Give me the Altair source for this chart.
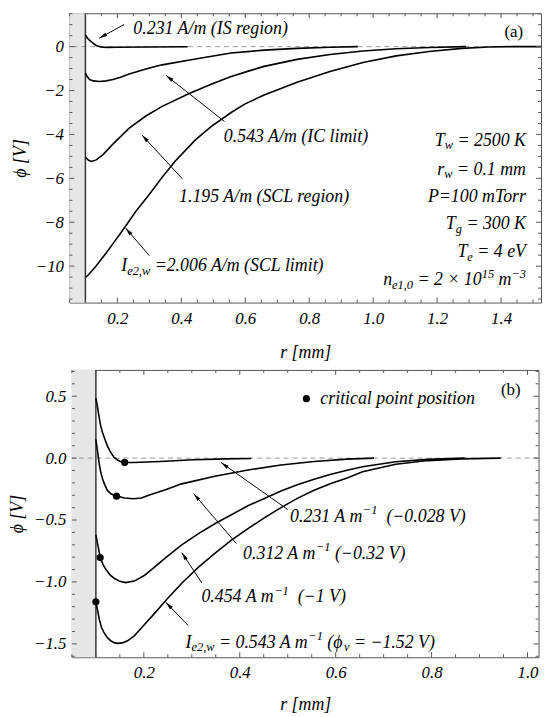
import re
import math
import pandas as pd
import altair as alt

FONT = "Liberation Serif"

# ---------------- panel (a): phi(r) curves ----------------
a_231_r = [0.1, 0.105, 0.11, 0.119, 0.127, 0.134, 0.145, 0.155, 0.17, 0.2, 0.3, 0.42]
a_231_phi = [0.53, 0.42, 0.33, 0.22, 0.12, 0.05, 0.0, -0.03, -0.035, -0.03, -0.015, -0.003]
a_543_r = [0.1, 0.105, 0.113, 0.125, 0.144, 0.165, 0.186, 0.21, 0.237, 0.289, 0.34, 0.444,
           0.556, 0.659, 0.762, 0.865, 0.952]
a_543_phi = [-1.20, -1.35, -1.50, -1.56, -1.59, -1.56, -1.50, -1.39, -1.25, -1.02, -0.83, -0.56,
             -0.29, -0.16, -0.08, -0.03, 0.0]
a_1195_r = [0.1, 0.11, 0.119, 0.134, 0.155, 0.186, 0.237, 0.289, 0.34, 0.423, 0.495, 0.556,
            0.62, 0.659, 0.762, 0.865, 0.968, 1.072, 1.175, 1.29]
a_1195_phi = [-5.04, -5.18, -5.23, -5.16, -4.92, -4.44, -3.71, -3.16, -2.72, -2.15, -1.70, -1.36,
              -1.07, -0.90, -0.58, -0.36, -0.20, -0.10, -0.04, 0.0]
a_2006_r = [0.1, 0.104, 0.11, 0.12, 0.134, 0.165, 0.196, 0.227, 0.258, 0.299, 0.34, 0.382,
            0.444, 0.495, 0.556, 0.598, 0.659, 0.762, 0.865, 0.968, 1.072, 1.175, 1.278,
            1.36, 1.43, 1.525]
a_2006_phi = [-10.50, -10.47, -10.38, -10.22, -9.98, -9.40, -8.78, -8.15, -7.50, -6.75, -5.95,
              -5.20, -4.25, -3.62, -3.00, -2.62, -2.20, -1.62, -1.13, -0.72, -0.42, -0.22,
              -0.08, -0.02, 0.0, 0.0]

# ---------------- panel (b): phi(r) curves ----------------
b_231_r = [0.1, 0.104, 0.107, 0.11, 0.114, 0.119, 0.124, 0.131, 0.138, 0.145, 0.152, 0.16,
           0.18, 0.234, 0.303, 0.372, 0.424]
b_231_phi = [0.485, 0.40, 0.325, 0.26, 0.205, 0.15, 0.099, 0.045, 0.005, -0.015, -0.029, -0.035,
             -0.036, -0.027, -0.013, -0.006, -0.003]
b_312_r = [0.1, 0.104, 0.107, 0.11, 0.114, 0.119, 0.124, 0.132, 0.143, 0.16, 0.178, 0.195, 0.21,
           0.245, 0.279, 0.348, 0.417, 0.486, 0.555, 0.624, 0.68]
b_312_phi = [0.152, 0.04, -0.048, -0.11, -0.168, -0.22, -0.261, -0.29, -0.307, -0.322, -0.328,
             -0.322, -0.30, -0.255, -0.208, -0.147, -0.096, -0.056, -0.027, -0.008, 0.0]
b_454_r = [0.1, 0.104, 0.109, 0.115, 0.121, 0.13, 0.138, 0.15, 0.162, 0.18, 0.2, 0.221, 0.245,
           0.279, 0.314, 0.348, 0.417, 0.486, 0.52, 0.555, 0.59, 0.624, 0.656, 0.725, 0.793, 0.869]
b_454_phi = [-0.62, -0.70, -0.80, -0.86, -0.90, -0.945, -0.97, -0.995, -1.005, -0.993, -0.95,
             -0.885, -0.805, -0.70, -0.61, -0.53, -0.385, -0.265, -0.215, -0.17, -0.13, -0.098,
             -0.07, -0.03, -0.01, 0.0]
b_543_r = [0.1, 0.104, 0.107, 0.112, 0.117, 0.124, 0.131, 0.138, 0.145, 0.155, 0.166, 0.18,
           0.193, 0.207, 0.221, 0.248, 0.279, 0.314, 0.348, 0.382, 0.417, 0.452, 0.486, 0.52,
           0.555, 0.59, 0.624, 0.656, 0.725, 0.793, 0.862, 0.944]
b_543_phi = [-1.16, -1.24, -1.30, -1.37, -1.41, -1.45, -1.475, -1.49, -1.496, -1.492, -1.475,
             -1.435, -1.38, -1.32, -1.26, -1.14, -1.01, -0.88, -0.77, -0.665, -0.57, -0.48,
             -0.40, -0.325, -0.26, -0.205, -0.16, -0.11, -0.05, -0.02, -0.006, 0.0]

# critical points (panel b)
crit_r = [0.16, 0.143, 0.109, 0.1]
crit_phi = [-0.035, -0.307, -0.803, -1.16]

# wall radius
wall_r = 0.1

# ---------------- axes: labels and ticks ----------------
a_xlabels = [0.2, 0.4, 0.6, 0.8, 1.0, 1.2, 1.4]
a_ylabels = [0, -2, -4, -6, -8, -10]
a_xminor = [0.05, 0.1, 0.15, 0.25, 0.3, 0.35, 0.45, 0.5, 0.55, 0.65, 0.7, 0.75, 0.85, 0.9,
            0.95, 1.05, 1.1, 1.15, 1.25, 1.3, 1.35, 1.45, 1.5]
a_yminor = [1.5, 1.0, 0.5, -0.5, -1.0, -1.5, -2.5, -3.0, -3.5, -4.5, -5.0, -5.5, -6.5, -7.0,
            -7.5, -8.5, -9.0, -9.5, -10.5, -11.0, -11.5]
b_xlabels = [0.2, 0.4, 0.6, 0.8, 1.0]
b_ylabels = [0.5, 0.0, -0.5, -1.0, -1.5]
b_xminor = [0.05, 0.1, 0.15, 0.25, 0.3, 0.35, 0.45, 0.5, 0.55, 0.65, 0.7, 0.75, 0.85, 0.9, 0.95]
b_yminor = [0.7, 0.6, 0.4, 0.3, 0.2, 0.1, -0.1, -0.2, -0.3, -0.4, -0.6, -0.7, -0.8, -0.9,
            -1.1, -1.2, -1.3, -1.4, -1.6]

# ---------------- annotation texts ----------------
# segments: (text, kind) kind: n = normal, b = subscript, p = superscript
a_texts = [
    ([("0.231 A/m (IS region)", "n")], 0.25, 0.80, "left"),
    ([("0.543 A/m (IC limit)", "n")], 0.533, -4.10, "left"),
    ([("1.195 A/m (SCL region)", "n")], 0.393, -6.87, "left"),
    ([("I", "n"), ("e2,w", "b"), (" =2.006 A/m (SCL limit)", "n")], 0.212, -10.0, "left"),
    ([("T", "n"), ("w", "b"), (" = 2500 K", "n")], 1.478, -4.29, "right"),
    ([("r", "n"), ("w", "b"), (" = 0.1 mm", "n")], 1.478, -5.62, "right"),
    ([("P=100 mTorr", "n")], 1.478, -6.87, "right"),
    ([("T", "n"), ("g", "b"), (" = 300 K", "n")], 1.478, -8.10, "right"),
    ([("T", "n"), ("e", "b"), (" = 4 eV", "n")], 1.478, -9.38, "right"),
    ([("n", "n"), ("e1,0", "b"), (" = 2 \u00d7 10", "n"), ("15", "p"), (" m", "n"), ("\u22123", "p")],
     1.478, -10.65, "right"),
]
a_arrows_r1 = [0.221, 0.535, 0.403, 0.30]
a_arrows_p1 = [1.01, -3.41, -6.02, -9.52]
a_arrows_r2 = [0.143, 0.352, 0.277, 0.226]
a_arrows_p2 = [0.38, -1.31, -4.03, -8.27]
a_tag = ("(a)", 1.44, 0.68)

b_texts = [
    ([("critical point position", "n")], 0.568, 0.48, "left"),
    ([("0.231 A m", "n"), ("\u22121", "p"), ("  (\u22120.028 V)", "n")], 0.505, -0.472, "left"),
    ([("0.312 A m", "n"), ("\u22121", "p"), (" (\u22120.32 V)", "n")], 0.407, -0.774, "left"),
    ([("0.454 A m", "n"), ("\u22121", "p"), ("  (\u22121 V)", "n")], 0.32, -1.124, "left"),
    ([("I", "n"), ("e2,w", "b"), (" = 0.543 A m", "n"), ("\u22121", "p"), (" (", "n"),
      ("\u03d5", "n"), ("v", "b"), (" = \u22121.52 V)", "n")], 0.287, -1.49, "left"),
]
b_arrows_r1 = [0.50, 0.393, 0.321, 0.292]
b_arrows_p1 = [-0.415, -0.69, -1.008, -1.35]
b_arrows_r2 = [0.361, 0.304, 0.279, 0.246]
b_arrows_p2 = [-0.036, -0.288, -0.763, -1.165]
b_tag = ("(b)", 0.965, 0.552)
legend_dot = (0.539, 0.48)

# ---------------- layout / style ----------------
A_W, A_H = 476, 292
A_XD, A_YD = [0.05, 1.525], [-11.66, 1.52]
B_W, B_H = 471, 290
B_XD, B_YD = [0.05, 1.023], [-1.608, 0.712]

FS_MAIN, FS_SMALL = 18, 12.5
FRAME = "#555555"
ARROW = "M0,0L0.4,1.7L-0.4,1.7Z"

W_IT = {' ': 0.25, '.': 0.25, ',': 0.25, 'A': 0.611, 'C': 0.667, 'I': 0.333, 'K': 0.667,
        'L': 0.556, 'P': 0.611, 'S': 0.5, 'T': 0.556, 'V': 0.611, 'a': 0.5, 'c': 0.444,
        'e': 0.444, 'g': 0.5, 'i': 0.278, 'l': 0.278, 'm': 0.722, 'n': 0.5, 'o': 0.5,
        'p': 0.5, 'r': 0.389, 's': 0.389, 't': 0.278, 'v': 0.444, 'w': 0.667, '(': 0.333,
        ')': 0.333, '/': 0.278, '=': 0.675, '\u2212': 0.675, '\u00d7': 0.675, '\u03d5': 0.6}


def tw(s, fs):
    return sum(W_IT.get(c, 0.5) for c in s) * fs


def text_rows(texts, sx, sy):
    rows = []
    for segs, r0, p0, align in texts:
        items = []
        for t, k in segs:
            fs = FS_SMALL if k in "bp" else FS_MAIN
            items.append((t, k, fs, tw(t, fs)))
        if align == "left":
            off = 0.0
            for t, k, fs, w in items:
                dy = {"n": 0.0, "b": 4.5, "p": -6.5}[k]
                for m in re.finditer(r"\S+(?: \S+)*", t):
                    o = off + tw(t[:m.start()], fs)
                    rows.append({"x": r0 + o / sx, "y": p0 - dy / sy, "t": m.group(0),
                                 "k": "small" if k in "bp" else "main", "al": "left"})
                off += w
        else:
            # anchor each chunk by its right end, measured back from the line end
            off = 0.0
            for t, k, fs, w in reversed(items):
                dy = {"n": 0.0, "b": 4.5, "p": -6.5}[k]
                for m in re.finditer(r"\S+(?: \S+)*", t):
                    o = off - tw(t[m.end():], fs)
                    rows.append({"x": r0 + o / sx, "y": p0 - dy / sy, "t": m.group(0),
                                 "k": "small" if k in "bp" else "main", "al": "right"})
                off -= w
    return pd.DataFrame(rows)


def arrow_df(r1, p1, r2, p2, sx, sy):
    rows = []
    for a, b, c, d in zip(r1, p1, r2, p2):
        dxp = (c - a) * sx
        dyp = -(d - b) * sy
        ang = (math.degrees(math.atan2(dxp, -dyp)) + 360.0) % 360.0
        rows.append({"r1": a, "p1": b, "r2": c, "p2": d, "ang": ang})
    return pd.DataFrame(rows)


def curves_df(pairs):
    frames = []
    for name, rr, pp in pairs:
        frames.append(pd.DataFrame({"r": rr, "phi": pp, "c": name, "i": range(len(rr))}))
    return pd.concat(frames, ignore_index=True)


def panel(W, H, XD, YD, curves, texts, arrows, tag, xlabels, ylabels, xminor, yminor,
          yfmt, yext, ytpad, xlpad, xtpad, dots=None):
    xs = alt.Scale(domain=XD, nice=False, zero=False)
    ys = alt.Scale(domain=YD, nice=False, zero=False)
    sx = W / (XD[1] - XD[0])
    sy = H / (YD[1] - YD[0])
    ax_x = alt.Axis(values=xlabels, format=".1f", title="r  [mm]", ticks=False, domain=False,
                    grid=False, labelPadding=xlpad, titlePadding=xtpad, minExtent=25,
                    maxExtent=25, labelFlush=False, labelOverlap=False)
    ax_y = alt.Axis(values=ylabels, format=yfmt, title="\u03d5  [V]", ticks=False, domain=False,
                    grid=False, labelPadding=6, titlePadding=ytpad, minExtent=yext,
                    maxExtent=yext, labelOverlap=False)

    def X(f):
        return alt.X(f, type="quantitative", scale=xs, axis=ax_x)

    def Y(f):
        return alt.Y(f, type="quantitative", scale=ys, axis=ax_y)

    layers = []
    layers.append(alt.Chart(pd.DataFrame({"x0": [XD[0]], "x1": [wall_r]})).mark_rect(
        color="#e6e6e6").encode(x=X("x0"), x2="x1:Q", y=alt.value(0), y2=alt.value(H)))
    layers.append(alt.Chart(pd.DataFrame({"v": [0.0]})).mark_rule(
        color="#9a9a9a", strokeDash=[5, 4], strokeWidth=1).encode(y=Y("v")))
    layers.append(alt.Chart(pd.DataFrame({"v": [wall_r]})).mark_rule(
        color="#333333", strokeWidth=1.5).encode(x=X("v")))
    layers.append(alt.Chart(curves).mark_line(color="black", strokeWidth=1.6, clip=True).encode(
        x=X("r"), y=Y("phi"), detail="c:N", order="i:Q"))
    if dots is not None:
        layers.append(alt.Chart(dots).mark_circle(size=52, color="black", opacity=1).encode(
            x=X("r"), y=Y("phi")))
    layers.append(alt.Chart(arrows).mark_rule(color="black", strokeWidth=1).encode(
        x=X("r1"), y=Y("p1"), x2="r2:Q", y2="p2:Q"))
    layers.append(alt.Chart(arrows).mark_point(shape=ARROW, filled=True, size=90, color="black",
                                               opacity=1, strokeWidth=0).encode(
        x=X("r2"), y=Y("p2"), angle=alt.Angle("ang:Q", scale=None)))
    tdf = text_rows(texts, sx, sy)
    for kind, fs in (("main", FS_MAIN), ("small", FS_SMALL)):
        for al in ("left", "right"):
            sub = tdf[(tdf["k"] == kind) & (tdf["al"] == al)]
            if len(sub) == 0:
                continue
            layers.append(alt.Chart(sub).mark_text(align=al, baseline="middle", font=FONT,
                                                   fontStyle="italic", fontSize=fs,
                                                   color="black").encode(
                x=X("x"), y=Y("y"), text="t:N"))
    layers.append(alt.Chart(pd.DataFrame({"t": [tag[0]], "x": [tag[1]], "y": [tag[2]]})).mark_text(
        align="center", baseline="middle", font=FONT, fontSize=17, color="black").encode(
        x=X("x"), y=Y("y"), text="t:N"))
    # frame ticks (inward), major and minor on all four sides
    for vals, ln in ((xlabels, 5), (xminor, 3)):
        d = pd.DataFrame({"v": vals})
        layers.append(alt.Chart(d).mark_rule(color=FRAME, strokeWidth=1).encode(
            x=X("v"), y=alt.value(H), y2=alt.value(H - ln)))
        layers.append(alt.Chart(d).mark_rule(color=FRAME, strokeWidth=1).encode(
            x=X("v"), y=alt.value(0), y2=alt.value(ln)))
    for vals, ln in ((ylabels, 5), (yminor, 3)):
        d = pd.DataFrame({"v": vals})
        layers.append(alt.Chart(d).mark_rule(color=FRAME, strokeWidth=1).encode(
            y=Y("v"), x=alt.value(0), x2=alt.value(ln)))
        layers.append(alt.Chart(d).mark_rule(color=FRAME, strokeWidth=1).encode(
            y=Y("v"), x=alt.value(W), x2=alt.value(W - ln)))
    return alt.layer(*layers).properties(width=W, height=H)


a_curves = curves_df([("a231", a_231_r, a_231_phi), ("a543", a_543_r, a_543_phi),
                      ("a1195", a_1195_r, a_1195_phi), ("a2006", a_2006_r, a_2006_phi)])
b_curves = curves_df([("b231", b_231_r, b_231_phi), ("b312", b_312_r, b_312_phi),
                      ("b454", b_454_r, b_454_phi), ("b543", b_543_r, b_543_phi)])

a_sx, a_sy = A_W / (A_XD[1] - A_XD[0]), A_H / (A_YD[1] - A_YD[0])
b_sx, b_sy = B_W / (B_XD[1] - B_XD[0]), B_H / (B_YD[1] - B_YD[0])

a_arrows = arrow_df(a_arrows_r1, a_arrows_p1, a_arrows_r2, a_arrows_p2, a_sx, a_sy)
b_arrows = arrow_df(b_arrows_r1, b_arrows_p1, b_arrows_r2, b_arrows_p2, b_sx, b_sy)

b_dots = pd.DataFrame({"r": crit_r + [legend_dot[0]], "phi": crit_phi + [legend_dot[1]]})

pa = panel(A_W, A_H, A_XD, A_YD, a_curves, a_texts, a_arrows, a_tag, a_xlabels, a_ylabels,
           a_xminor, a_yminor, "d", 34, 6, 8, 16)
pb = panel(B_W, B_H, B_XD, B_YD, b_curves, b_texts, b_arrows, b_tag, b_xlabels, b_ylabels,
           b_xminor, b_yminor, ".1f", 39, 7, 7, 14, dots=b_dots)

chart = alt.vconcat(pa, pb, spacing=6, center=True).properties(padding=0).configure_axis(
    labelFont=FONT, labelFontStyle="italic", labelFontSize=17, labelColor="black",
    titleFont=FONT, titleFontStyle="italic", titleFontSize=18, titleFontWeight="normal",
    titleColor="black").configure_view(stroke=FRAME, strokeWidth=1)

chart.save("out.html", embed_options={"renderer": "svg", "actions": False})
